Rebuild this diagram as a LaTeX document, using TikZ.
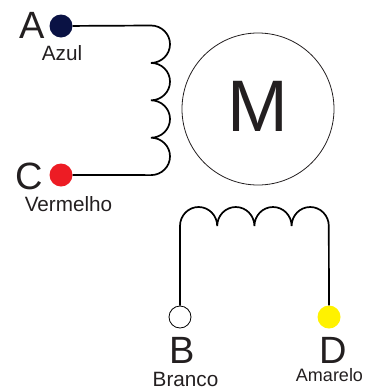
\documentclass[tikz,border=0pt]{standalone}
\usepackage{fontspec}
\setmainfont{Liberation Sans}
\definecolor{inkgray}{HTML}{231F20}
\definecolor{azul}{HTML}{0A1244}
\definecolor{vermelho}{HTML}{ED1C24}
\definecolor{amarelo}{HTML}{FFF200}
\tikzset{
    dot/.style={circle, minimum size=23pt, inner sep=0pt},
    wire/.style={draw=black, line width=1.7pt},
    letter/.style={text=inkgray, font=\fontsize{38}{38}\selectfont, inner sep=0pt},
    colour/.style={text=inkgray, font=\fontsize{20.7}{20.7}\selectfont, inner sep=0pt},
}
\begin{document}
\begin{tikzpicture}[x=1pt, y=-1pt]
    \useasboundingbox (0,0) rectangle (390,389);
    \node[draw=inkgray, line width=0.8pt, circle, minimum size=152pt, inner sep=0pt] (motor) at (258,109) {};
    \node[text=inkgray, font=\fontsize{73}{73}\selectfont, inner sep=0pt] (m) at (258,106.5) {M};
    % terminals
    \node[dot, fill=azul] (a) at (61,26) {};
    \node[dot, fill=vermelho] (c) at (61,175) {};
    \node[dot, minimum size=22pt, draw=black, line width=0.8pt, fill=white] (b) at (180,317) {};
    \node[dot, fill=amarelo] (d) at (329,317) {};
    % labels
    \node[letter] (la) at (32,25) {A};
    \node[letter] (lc) at (29,176) {C};
    \node[letter] (lb) at (182,350) {B};
    \node[letter] (ld) at (333,350) {D};
    \node[colour] (na) at (62,53) {Azul};
    \node[colour] (nc) at (68.5,204) {Vermelho};
    \node[colour] (nb) at (185.5,379) {Branco};
    \node[colour, font=\fontsize{18}{18}\selectfont] (nd) at (329.5,375) {Amarelo};
    % coil ends
    \coordinate (c1) at (151,25.5);
    \coordinate (c3) at (180,226);
    % coils
    \draw[wire] (a) -- (c1)
        arc[start angle=-90, end angle=90, x radius=19, y radius=18.7]
        arc[start angle=-90, end angle=90, x radius=19, y radius=18.7]
        arc[start angle=-90, end angle=90, x radius=19, y radius=18.7]
        arc[start angle=-90, end angle=90, x radius=19, y radius=18.7] -- (c);
    \draw[wire] (b) -- (c3)
        arc[start angle=180, end angle=360, x radius=18.6, y radius=19]
        arc[start angle=180, end angle=360, x radius=18.6, y radius=19]
        arc[start angle=180, end angle=360, x radius=18.6, y radius=19]
        arc[start angle=180, end angle=360, x radius=18.6, y radius=19] -- (d);
\end{tikzpicture}
\end{document}
